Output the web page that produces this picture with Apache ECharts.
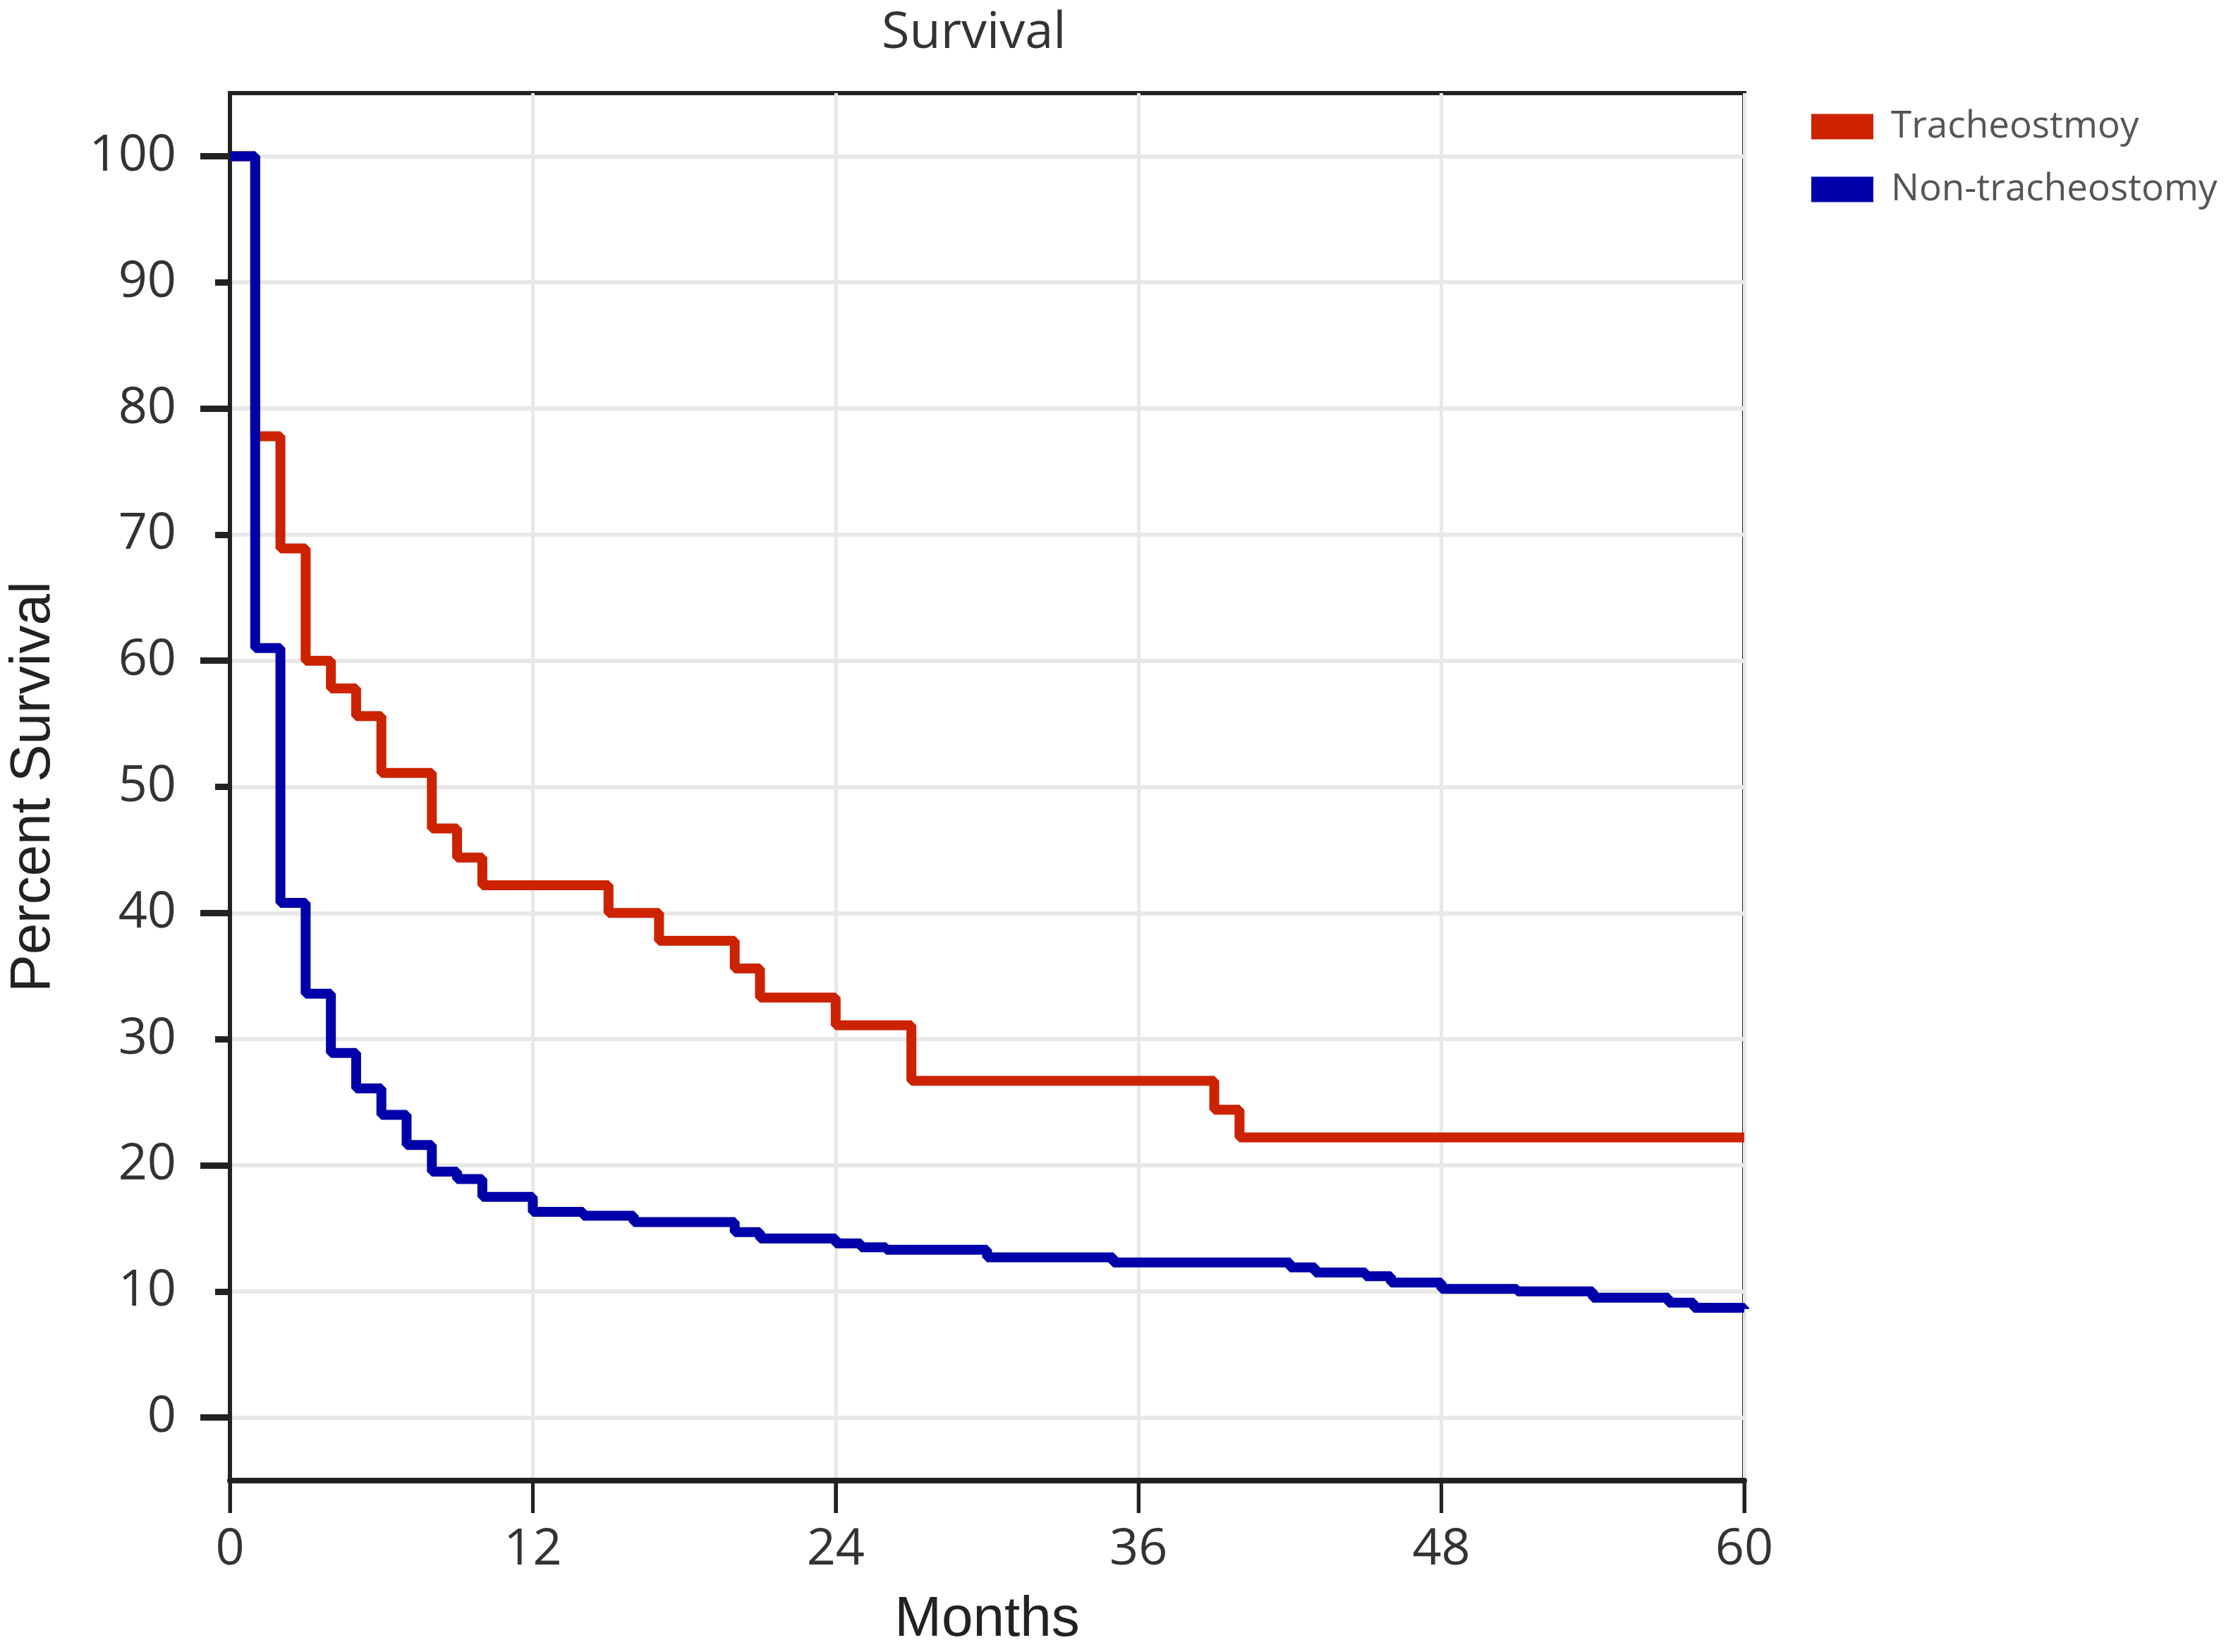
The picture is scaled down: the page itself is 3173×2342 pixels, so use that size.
<!DOCTYPE html>
<html>
<head>
<meta charset="utf-8">
<script src="https://cdn.jsdelivr.net/npm/echarts@6/dist/echarts.min.js"></script>
<style>
  html, body { margin: 0; padding: 0; background: #fff; }
  #main { width: 3173px; height: 2342px; }
</style>
</head>
<body>
<div id="main"></div>
<script>
// axis ticks
var xTicks = [0, 12, 24, 36, 48, 60];
var yMin = -5;
var yMax = 105;
var yLabels = [0, 10, 20, 30, 40, 50, 60, 70, 80, 90, 100];
var yMajor = [0, 20, 40, 60, 80, 100];

// Kaplan-Meier steps (months, percent)
var trachTime = [0, 1, 2, 3, 4, 5, 6, 8, 9, 10, 15, 17, 20, 21, 24, 27, 39, 40, 60];
var trachSurv = [100, 77.8, 68.9, 60, 57.8, 55.6, 51.1, 46.7, 44.4, 42.2, 40, 37.8, 35.6, 33.3, 31.1, 26.7, 24.4, 22.2, 22.2];

var nonTime = [0, 1, 2, 3, 4, 5, 6, 7, 8, 9, 10, 12, 14, 16, 20, 21, 24, 25, 26, 30, 35, 42, 43, 45, 46, 48, 51, 54, 57, 58, 60];
var nonSurv = [100, 61, 40.8, 33.6, 28.9, 26.1, 24, 21.6, 19.5, 18.9, 17.5, 16.3, 16, 15.5, 14.7, 14.2, 13.8, 13.5, 13.3, 12.7, 12.3, 11.9, 11.5, 11.2, 10.7, 10.2, 10, 9.5, 9.1, 8.7, 8.6];

function pairs(t, v) {
  return t.map(function(x, i) { return [x, v[i]]; });
}

(function() {
  var myChart = echarts.init(document.getElementById("main"));
  var option = {
    backgroundColor: "#fff",
    animation: false,
    title: {
      text: "Survival",
      left: 1245,
      top: 6,
      textStyle: {
        fontFamily: "Open Sans",
        fontWeight: "normal",
        fontSize: 72,
        color: "#333"
      }
    },
    legend: {
      orient: "vertical",
      left: 2563,
      top: 148,
      icon: "rect",
      itemWidth: 88,
      itemHeight: 36,
      itemGap: 36,
      textStyle: {
        fontFamily: "Open Sans",
        fontSize: 53,
        color: "#555",
        padding: [0, 0, 0, 20]
      },
      data: ["Tracheostmoy", "Non-tracheostomy"]
    },
    grid: {
      left: 324,
      right: 700,
      top: 132,
      bottom: 241,
      show: true,
      borderColor: "#222",
      borderWidth: 6
    },
    xAxis: {
      type: "value",
      min: 0,
      max: 60,
      interval: 12,
      name: "Months",
      nameLocation: "middle",
      nameGap: 158,
      nameTextStyle: {
        fontFamily: "Liberation Sans",
        fontSize: 80,
        color: "#222"
      },
      axisLine: { show: true, onZero: false, lineStyle: { color: "#222", width: 8 } },
      axisTick: { show: true, length: 46, lineStyle: { color: "#222", width: 5 } },
      axisLabel: {
        margin: 62,
        fontFamily: "Open Sans",
        fontSize: 72,
        color: "#333"
      },
      splitLine: { show: true, lineStyle: { color: "#e8e8e8", width: 5 } }
    },
    yAxis: [
      {
        type: "value",
        min: yMin,
        max: yMax,
        name: "Percent Survival",
        nameLocation: "middle",
        nameGap: 238,
        nameTextStyle: {
          fontFamily: "Liberation Sans",
          fontSize: 80,
          color: "#222"
        },
        axisLine: { show: true, lineStyle: { color: "#222", width: 6 } },
        axisTick: { show: true, customValues: yLabels, length: 21, lineStyle: { color: "#222", width: 9 } },
        axisLabel: {
          customValues: yLabels,
          margin: 76,
          fontFamily: "Open Sans",
          fontSize: 72,
          color: "#333"
        },
        splitLine: { show: true, lineStyle: { color: "#e8e8e8", width: 6 } }
      },
      {
        type: "value",
        min: yMin,
        max: yMax,
        position: "left",
        axisLine: { show: false },
        axisTick: { show: true, customValues: yMajor, length: 42, lineStyle: { color: "#222", width: 9 } },
        axisLabel: { show: false },
        splitLine: { show: false }
      }
    ],
    series: [
      {
        name: "Tracheostmoy",
        type: "line",
        step: "end",
        symbol: "none",
        color: "#cc2200",
        lineStyle: { width: 14, color: "#cc2200" },
        data: pairs(trachTime, trachSurv)
      },
      {
        name: "Non-tracheostomy",
        type: "line",
        step: "end",
        symbol: "none",
        color: "#0000aa",
        lineStyle: { width: 14, color: "#0000aa" },
        data: pairs(nonTime, nonSurv)
      },
      {
        // downward month ticks under the bottom axis line
        type: "custom",
        silent: true,
        clip: false,
        z: 10,
        data: xTicks.map(function(x) { return [x, yMin]; }),
        renderItem: function(params, api) {
          var p = api.coord([api.value(0), api.value(1)]);
          return {
            type: "line",
            shape: { x1: p[0], y1: p[1], x2: p[0], y2: p[1] + 46 },
            style: { stroke: "#222", lineWidth: 5 }
          };
        }
      }
    ]
  };
  myChart.setOption(option);
  window.addEventListener("resize", function() {
    myChart.resize();
  });
})();
</script>
</body>
</html>
